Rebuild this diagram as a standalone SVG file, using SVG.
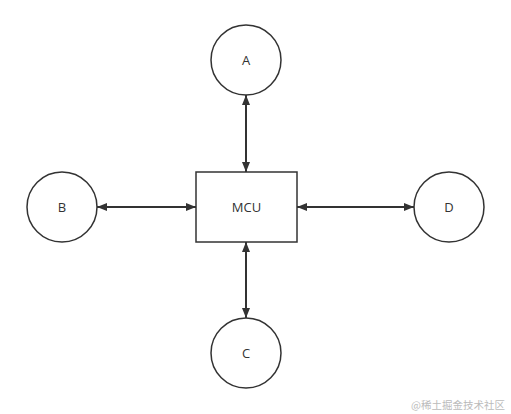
<svg xmlns="http://www.w3.org/2000/svg" width="511" height="414" viewBox="0 0 511 414">
<style>
.n{fill:#fff;stroke:#333;stroke-width:1.5}
.t{font-family:"Open Sans","Liberation Sans",sans-serif;font-size:13px;fill:#333;text-anchor:middle;dominant-baseline:central}
.e{stroke:#333;stroke-width:2;fill:none;marker-start:url(#a);marker-end:url(#a)}
.w{font-family:"Noto Sans CJK SC",sans-serif;font-size:10.5px;fill:#bbb;text-anchor:end}
</style>
<defs>
<marker id="a" viewBox="0 0 10 8" refX="10" refY="4" markerWidth="10" markerHeight="8" markerUnits="userSpaceOnUse" orient="auto-start-reverse">
<path d="M0,0L10,4L0,8z" fill="#333"/>
</marker>
</defs>
<rect width="511" height="414" fill="#fff"/>
<g id="connectors">
<line class="e" x1="246" y1="95" x2="246" y2="172"/>
<line class="e" x1="246" y1="242" x2="246" y2="318"/>
<line class="e" x1="97" y1="207" x2="196" y2="207"/>
<line class="e" x1="297" y1="207" x2="414" y2="207"/>
</g>
<g id="MCU"><rect class="n" x="196" y="172" width="101" height="70"/><text class="t" x="246.5" y="207">MCU</text></g>
<g id="A"><circle class="n" cx="246" cy="60" r="35"/><text class="t" x="246" y="60">A</text></g>
<g id="B"><circle class="n" cx="62" cy="207" r="35"/><text class="t" x="62" y="207">B</text></g>
<g id="C"><circle class="n" cx="246" cy="353" r="35"/><text class="t" x="246" y="353">C</text></g>
<g id="D"><circle class="n" cx="449" cy="207" r="35"/><text class="t" x="449" y="207">D</text></g>
<text class="w" x="505" y="409">@稀土掘金技术社区</text>
</svg>
